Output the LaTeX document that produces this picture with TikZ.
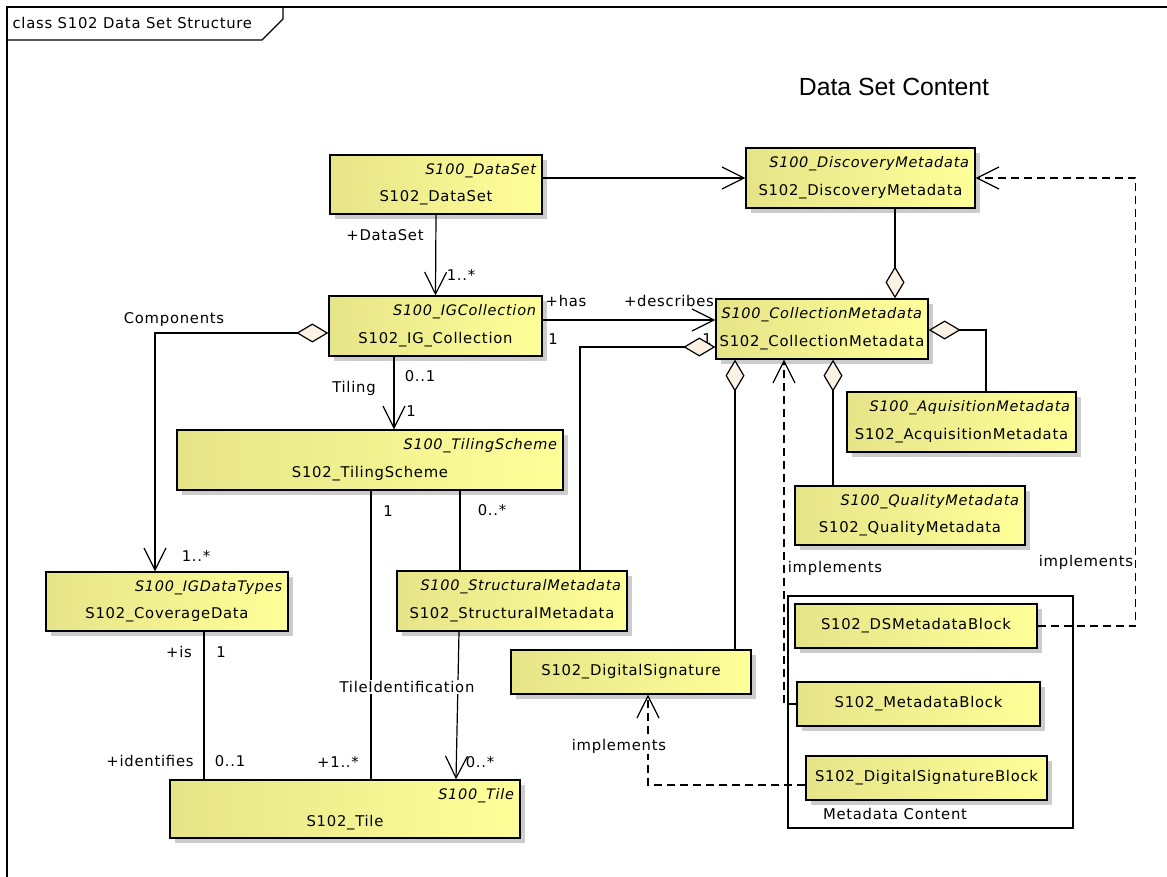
\documentclass[tikz,border=0pt]{standalone}
\usepackage{fontspec}
\setmainfont{DejaVu Sans}[LetterSpace=5]
\newfontfamily\titlefont{Liberation Sans}
\usetikzlibrary{arrows.meta,shadows}
\definecolor{clsL}{RGB}{230,228,136}
\definecolor{clsR}{RGB}{255,255,153}
\definecolor{diaf}{RGB}{251,242,228}
\newcommand{\umlsize}{\fontsize{14.8}{17}\selectfont}
\tikzset{dia/.tip={Diamond[length=32pt,width=19pt,fill=diaf]}}

\begin{document}
\begin{tikzpicture}[x=1pt,y=-1pt,font=\umlsize,line width=1.2pt,
  >={Straight Barb[length=22pt,width=22pt]},
  cls/.style={draw,line width=1.3pt,left color=clsL,right color=clsR,
    drop shadow={shadow xshift=5pt,shadow yshift=-5pt,opacity=1,fill=black!20},
    inner sep=0pt,text height=38pt,text depth=3.4pt},
  blk/.style={draw,line width=1.3pt,left color=clsL,right color=clsR,
    drop shadow={shadow xshift=5pt,shadow yshift=-5pt,opacity=1,fill=black!20},
    inner sep=0pt,minimum height=44},
  stereo/.style={anchor=east,inner sep=0pt,font=\fontsize{14.5}{17}\selectfont\itshape},
  impl/.style={dash pattern=on 8pt off 5pt},
  lbl/.style={inner sep=1pt}]
\useasboundingbox (0,0) rectangle (1167,877);
% frame
\draw[line width=1.4pt] (7,7) rectangle (1172,882);
\draw[line width=1.4pt] (7,40) -- (262,40) -- (283,19) -- (283,7);
\node[anchor=west,inner sep=0pt] (hdr) at (12,23) {class S102 Data Set Structure};
\node[inner sep=0pt] (title) at (894,87) {\titlefont\fontsize{24.8}{28}\selectfont Data Set Content};
%
\node[draw,minimum width=285,minimum height=232] (pkg) at (930.5,712) {};
\node[lbl] (pkgname) at (895,814) {Metadata Content};
%
\node[cls,minimum width=212,minimum height=59] (ds) at (436,184.5) {S102\_DataSet};
\node[stereo] (ds-s) at ([xshift=-6,yshift=-16]ds.north east) {S100\_DataSet};
\node[cls,minimum width=229,minimum height=60] (disc) at (860.5,178) {S102\_DiscoveryMetadata};
\node[stereo] (disc-s) at ([xshift=-6,yshift=-16]disc.north east) {S100\_DiscoveryMetadata};
\node[cls,minimum width=213,minimum height=60] (igc) at (435.5,326) {S102\_IG\_Collection};
\node[stereo] (igc-s) at ([xshift=-6,yshift=-16]igc.north east) {S100\_IGCollection};
\node[cls,minimum width=212,minimum height=60] (colmeta) at (822,329) {S102\_CollectionMetadata};
\node[stereo] (colmeta-s) at ([xshift=-6,yshift=-16]colmeta.north east) {S100\_CollectionMetadata};
\node[cls,minimum width=386,minimum height=60] (tiling) at (370,460) {S102\_TilingScheme};
\node[stereo] (tiling-s) at ([xshift=-6,yshift=-16]tiling.north east) {S100\_TilingScheme};
\node[cls,minimum width=242,minimum height=59] (cov) at (167,601.5) {S102\_CoverageData};
\node[stereo] (cov-s) at ([xshift=-6,yshift=-16]cov.north east) {S100\_IGDataTypes};
\node[cls,minimum width=230,minimum height=60] (struct) at (512,601) {S102\_StructuralMetadata};
\node[stereo] (struct-s) at ([xshift=-6,yshift=-16]struct.north east) {S100\_StructuralMetadata};
\node[cls,minimum width=229,minimum height=60] (aquis) at (961.5,422) {S102\_AcquisitionMetadata};
\node[stereo] (aquis-s) at ([xshift=-6,yshift=-16]aquis.north east) {S100\_AquisitionMetadata};
\node[cls,minimum width=230,minimum height=59] (qual) at (910,515.5) {S102\_QualityMetadata};
\node[stereo] (qual-s) at ([xshift=-6,yshift=-16]qual.north east) {S100\_QualityMetadata};
\node[cls,minimum width=350,minimum height=58] (tile) at (345,809) {S102\_Tile};
\node[stereo] (tile-s) at ([xshift=-6,yshift=-16]tile.north east) {S100\_Tile};
\node[blk,minimum width=240] (digsig) at (631,672) {S102\_DigitalSignature};
\node[blk,minimum width=242] (dsmb) at (916,626) {S102\_DSMetadataBlock};
\node[blk,minimum width=243] (mb) at (918.5,704) {S102\_MetadataBlock};
\node[blk,minimum width=241] (dsb) at (926.5,778) {S102\_DigitalSignatureBlock};
%
\draw[->] (ds.east |- disc.west) -- (disc.west);
\draw[->] (ds.south) -- (igc.north);
\node[lbl] (l1) at (385,235) {+DataSet};
\node[lbl] (l2) at (461,275) {1..*};
\draw[->] ([yshift=6]igc.east) -- ([yshift=9]colmeta.west);
\node[lbl] (l3) at (566,301) {+has};
\node[lbl] (l4) at (553,339) {1};
\node[lbl] (l5) at (669,301) {+describes};
\node[lbl] (l6) at (707,339) {1};
\draw[dia-] ([yshift=-18]colmeta.west) -| ([xshift=68]struct.north);
\draw[dia-] ([xshift=-87]colmeta.south) -- ([xshift=104]digsig.north);
\draw[dia-] ([xshift=11]colmeta.south) -- ([xshift=-77]qual.north);
\draw[dia-] ([yshift=-1]colmeta.east) -| ([xshift=24.5]aquis.north);
\draw[dia-] ([xshift=73]colmeta.north) -- ([xshift=34.5]disc.south);
\draw[dia->] ([yshift=-7]igc.west) -| ([xshift=-12]cov.north);
\node[lbl] (l7) at (174,320) {Components};
\node[lbl] (l8) at (196,556) {1..*};
\draw[->] ([xshift=-41.5]igc.south) -- ([xshift=24]tiling.north);
\node[lbl] (l9) at (354,388) {Tiling};
\node[lbl] (l10) at (420,376) {0..1};
\node[lbl] (l11) at (411,411) {1};
\draw ([xshift=90]tiling.south) -- ([xshift=-52]struct.north);
\node[lbl] (l12) at (492,510) {0..*};
\draw ([xshift=1]tiling.south) -- ([xshift=26]tile.north);
\node[lbl] (l13) at (388,511) {1};
\node[lbl] (l14) at (338,762) {+1..*};
\draw[->] ([xshift=-53]struct.south) -- ([xshift=111]tile.north);
\node[lbl] (l15) at (480,762) {0..*};
\node[lbl,fill=white] (l16) at (407,687) {TileIdentification};
\draw ([xshift=37]cov.south) -- ([xshift=-141]tile.north);
\node[lbl] (l17) at (179,652) {+is};
\node[lbl] (l18) at (221,652) {1};
\node[lbl] (l19) at (150,761) {+identifies};
\node[lbl] (l20) at (230,761) {0..1};
% implements
\draw[impl,->] (mb.west) -| ([xshift=-38]colmeta.south);
\node[lbl] (l21) at (835,568) {implements};
\draw[impl,->] (dsmb.east) -| ([xshift=160]disc.east) -- (disc.east);
\node[lbl] (l22) at (1086,562) {implements};
\draw[impl,->] ([yshift=-7]dsb.west) -| ([xshift=17]digsig.south);
\node[lbl,fill=white] (l23) at (619,746) {implements};
\end{tikzpicture}
\end{document}
